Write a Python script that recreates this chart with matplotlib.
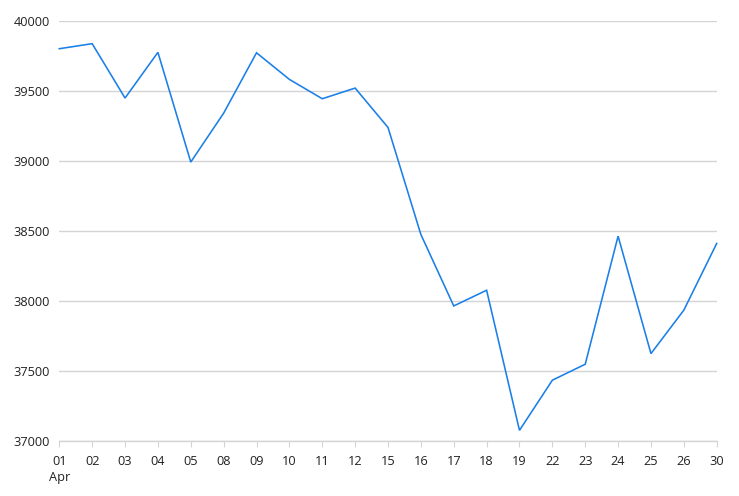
import matplotlib
matplotlib.use("Agg")
import matplotlib.pyplot as plt

days = ["01", "02", "03", "04", "05", "08", "09", "10", "11", "12", "15",
        "16", "17", "18", "19", "22", "23", "24", "25", "26", "30"]
month = "Apr"
values = [39800, 39836, 39448, 39774, 38991, 39340, 39771, 39581, 39443, 39519, 39238,
          38474, 37964, 38076, 37076, 37434, 37548, 38462, 37624, 37934, 38410]
y_ticks = [37000, 37500, 38000, 38500, 39000, 39500, 40000]

plt.rcParams['font.family'] = ['Open Sans', 'DejaVu Sans']

W, H = 739, 496
fig = plt.figure(figsize=(W / 100, H / 100), dpi=100)
left, right, top, bottom = 59.3, 716.7, 20.7, 441.0
ax = fig.add_axes([left / W, (H - bottom) / H, (right - left) / W, (bottom - top) / H])

x = list(range(len(days)))
ax.plot(x, values, color="#1a7fe8", linewidth=1.15, solid_joinstyle="miter", zorder=3, clip_on=False)

ax.set_xlim(0, len(days) - 1)
ax.set_ylim(y_ticks[0], y_ticks[-1])
ax.set_yticks(y_ticks)
ax.set_yticklabels([str(v) for v in y_ticks])
labels = [d if i > 0 else d + "\n" + month for i, d in enumerate(days)]
ax.set_xticks(x)
ax.set_xticklabels(labels, linespacing=1.35, va="top")

ax.grid(axis="y", color="#d4d4d4", linewidth=1.0, zorder=0)
ax.grid(axis="x", visible=False)
for s in ["top", "right", "left"]:
    ax.spines[s].set_visible(False)
ax.spines["bottom"].set_color("#d4d4d4")
ax.spines["bottom"].set_linewidth(1.0)

ax.tick_params(axis="y", length=0, pad=7, labelsize=9.2, labelcolor="#222222")
ax.tick_params(axis="x", length=4, width=0.8, color="#d4d4d4", pad=6, labelsize=9.2, labelcolor="#222222")

fig.savefig("out.png", dpi=100, facecolor="white")
